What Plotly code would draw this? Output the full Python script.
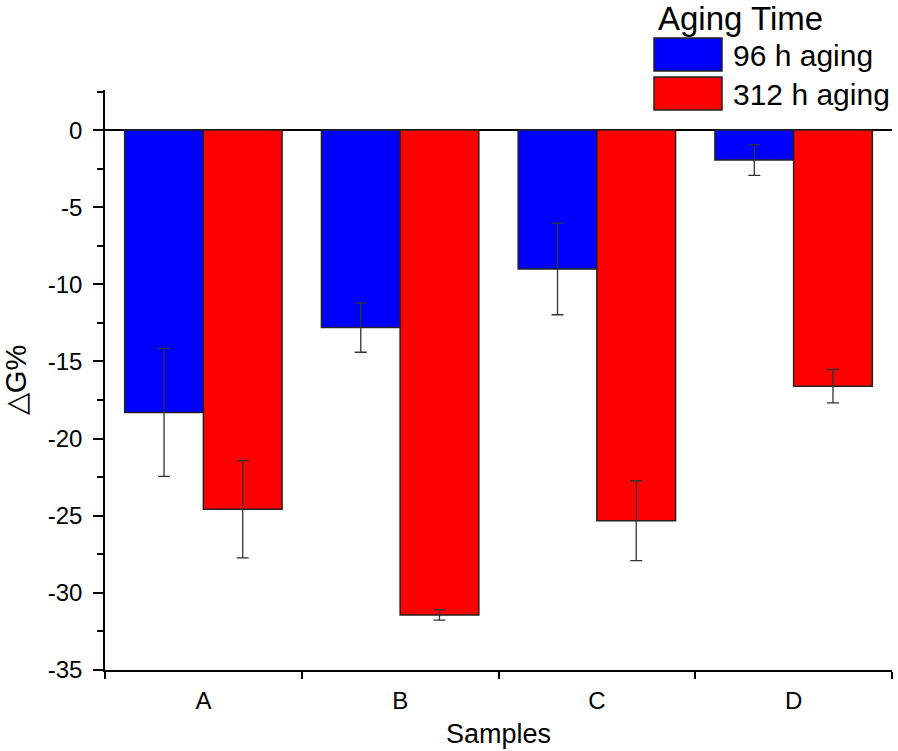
import plotly.graph_objects as go

samples = ["A", "B", "C", "D"]
aging_96 = [-18.3, -12.8, -9.0, -1.94]
err_96 = [4.15, 1.6, 2.97, 1.0]
aging_312 = [-24.58, -31.43, -25.32, -16.6]
err_312 = [3.15, 0.34, 2.59, 1.08]
series_names = ["96 h aging", "312 h aging"]
colors = ["#0000FF", "#FF0000"]
y_tickvals = [0, -5, -10, -15, -20, -25, -30, -35]
y_ticktext = ["0", "-5", "-10", "-15", "-20", "-25", "-30", "-35"]

FONT = "Liberation Sans, Arial, sans-serif"

fig = go.Figure()
for name, vals, errs, col in zip(series_names, [aging_96, aging_312], [err_96, err_312], colors):
    fig.add_trace(go.Bar(
        x=samples, y=vals, name=name,
        marker=dict(color=col, line=dict(color="#222222", width=1.5)),
        error_y=dict(type="data", array=errs, visible=True, color="#333333", thickness=1.3, width=6),
        showlegend=False,
    ))

W, H = 898, 751
L, R, T, B = 105, 6, 90, 81
pw, ph = W - L - R, H - T - B

def px(xp):
    return (xp - L) / pw

def py(yp):
    return (H - B - yp) / ph

fig.update_layout(
    width=W, height=H,
    margin=dict(l=L, r=R, t=T, b=B),
    paper_bgcolor="white", plot_bgcolor="white",
    barmode="group", bargap=0.2, bargroupgap=0.0,
    font=dict(family=FONT, color="black"),
    xaxis=dict(
        automargin=False,
        showline=True, linecolor="black", linewidth=1.5,
        ticks="outside", tickson="boundaries", ticklen=7, tickwidth=1.5, tickcolor="black",
        ticklabelstandoff=8,
        tickfont=dict(size=24), showgrid=False, zeroline=False, mirror=False,
        title=dict(text="Samples", font=dict(size=27), standoff=12),
    ),
    yaxis=dict(
        automargin=False,
        range=[-35, 2.6], tickvals=y_tickvals, ticktext=y_ticktext,
        showline=True, linecolor="black", linewidth=1.5,
        ticks="outside", ticklen=10, tickwidth=1.5, tickcolor="black",
        ticklabelstandoff=6,
        minor=dict(dtick=2.5, ticks="outside", ticklen=6, tickwidth=1.5, tickcolor="black"),
        tickfont=dict(size=24), showgrid=False,
        zeroline=True, zerolinecolor="black", zerolinewidth=1.5,
        title=dict(text="△G%", font=dict(size=29), standoff=18),
    ),
)

# custom legend
fig.add_annotation(x=px(656), y=py(19), xref="paper", yref="paper", text="Aging Time",
                   showarrow=False, xanchor="left", yanchor="middle", font=dict(size=33))
for i, (name, col) in enumerate(zip(series_names, colors)):
    y0 = 38 + i * 39
    fig.add_shape(type="rect", xref="paper", yref="paper",
                  x0=px(654), x1=px(722), y0=py(y0), y1=py(y0 + 33),
                  fillcolor=col, line=dict(color="#222222", width=1.5))
    fig.add_annotation(x=px(731), y=py(y0 + 17), xref="paper", yref="paper", text=name,
                       showarrow=False, xanchor="left", yanchor="middle", font=dict(size=30))

fig.write_html("out.html", config={"displayModeBar": False},
               post_script="document.body.style.margin='0';document.body.style.padding='0';")
